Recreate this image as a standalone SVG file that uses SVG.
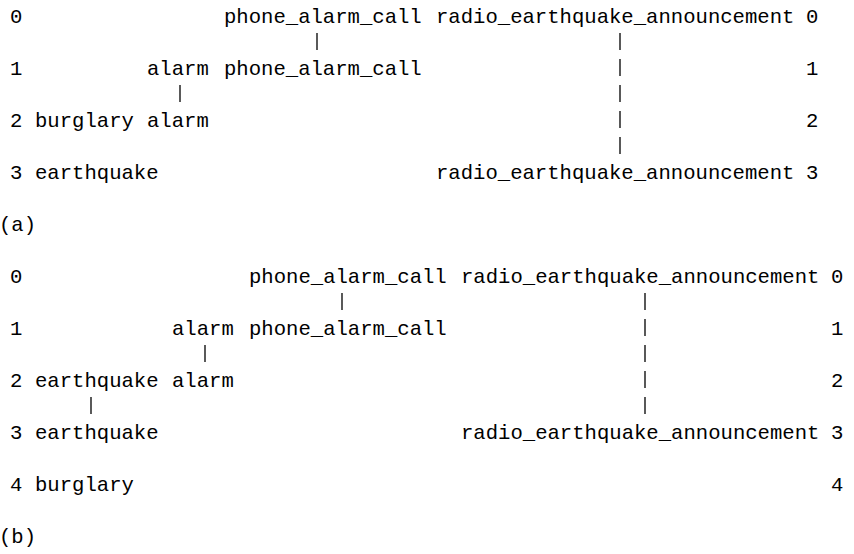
<svg xmlns="http://www.w3.org/2000/svg" width="854" height="554" viewBox="0 0 854 554">
<style>
text{font-family:"Liberation Mono","DejaVu Sans Mono",monospace;font-size:20.6px;fill:#000}
.bar{stroke:#000;stroke-width:1.3;fill:none}
</style>
<rect width="854" height="554" fill="#fff"/>
<g id="panel-a">
  <g id="a-rows">
    <text x="10" y="23">0</text>
    <text x="10" y="75">1</text>
    <text x="10" y="127">2</text>
    <text x="10" y="179">3</text>
    <text x="806" y="23">0</text>
    <text x="806" y="75">1</text>
    <text x="806" y="127">2</text>
    <text x="806" y="179">3</text>
  </g>
  <g id="a-phone0"><text x="224" y="23">phone_alarm_call</text></g>
  <g id="a-radio0"><text x="436" y="23">radio_earthquake_announcement</text></g>
  <g id="a-alarm1"><text x="147" y="75">alarm</text></g>
  <g id="a-phone1"><text x="224" y="75">phone_alarm_call</text></g>
  <g id="a-burglary2"><text x="35" y="127">burglary</text></g>
  <g id="a-alarm2"><text x="147" y="127">alarm</text></g>
  <g id="a-earthquake3"><text x="35" y="179">earthquake</text></g>
  <g id="a-radio3"><text x="436" y="179">radio_earthquake_announcement</text></g>
  <g id="a-label"><text x="-1" y="231">(a)</text></g>
</g>
<g id="panel-b">
  <g id="b-rows">
    <text x="10" y="283">0</text>
    <text x="10" y="335">1</text>
    <text x="10" y="387">2</text>
    <text x="10" y="439">3</text>
    <text x="10" y="491">4</text>
    <text x="831" y="283">0</text>
    <text x="831" y="335">1</text>
    <text x="831" y="387">2</text>
    <text x="831" y="439">3</text>
    <text x="831" y="491">4</text>
  </g>
  <g id="b-phone0"><text x="249" y="283">phone_alarm_call</text></g>
  <g id="b-radio0"><text x="461" y="283">radio_earthquake_announcement</text></g>
  <g id="b-alarm1"><text x="172" y="335">alarm</text></g>
  <g id="b-phone1"><text x="249" y="335">phone_alarm_call</text></g>
  <g id="b-earthquake2"><text x="35" y="387">earthquake</text></g>
  <g id="b-alarm2"><text x="172" y="387">alarm</text></g>
  <g id="b-earthquake3"><text x="35" y="439">earthquake</text></g>
  <g id="b-radio3"><text x="461" y="439">radio_earthquake_announcement</text></g>
  <g id="b-burglary4"><text x="35" y="491">burglary</text></g>
  <g id="b-label"><text x="-1" y="543">(b)</text></g>
</g>
<g id="connectors" class="bar">
  <line x1="317" y1="33" x2="317" y2="50"/>
  <line x1="180" y1="85" x2="180" y2="102"/>
  <path d="M620 33V50M620 59V76M620 85V102M620 111V128M620 137V154"/>
  <line x1="342" y1="293" x2="342" y2="310"/>
  <line x1="205" y1="345" x2="205" y2="362"/>
  <line x1="91" y1="397" x2="91" y2="414"/>
  <path d="M645 293V310M645 319V336M645 345V362M645 371V388M645 397V414"/>
</g>
</svg>
